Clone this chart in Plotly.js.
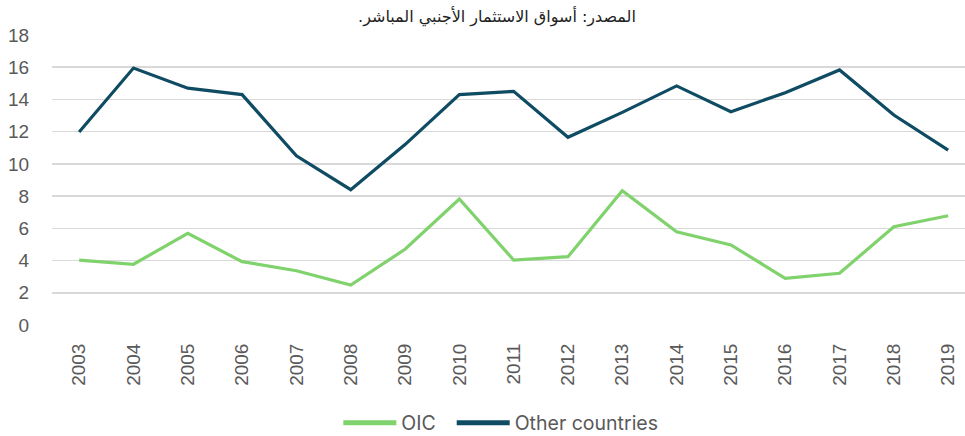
<!DOCTYPE html>
<html>
<head>
<meta charset="utf-8">
<script src="https://cdn.plot.ly/plotly-3.0.1.min.js"></script>
<style>html,body{margin:0;padding:0;background:#fff;}#chart{width:965px;height:436px;}</style>
</head>
<body>
<div id="chart"></div>
<script>
var years = ["2003","2004","2005","2006","2007","2008","2009","2010","2011","2012","2013","2014","2015","2016","2017","2018","2019"];
var oic = [4.03, 3.77, 5.69, 3.93, 3.37, 2.48, 4.7, 7.82, 4.03, 4.24, 8.34, 5.79, 4.97, 2.9, 3.21, 6.1, 6.78];
var otherCountries = [11.98, 15.95, 14.7, 14.3, 10.5, 8.4, 11.2, 14.3, 14.5, 11.65, 13.2, 14.84, 13.24, 14.42, 15.83, 13.03, 10.86];
var yTicks = [0, 2, 4, 6, 8, 10, 12, 14, 16, 18];
var seriesNames = ["OIC\u00A0\u00A0", "Other countries"];
var titleText = "\u202Bالمصدر: أسواق الاستثمار الأجنبي المباشر.\u202C";

var traces = [
  {x: years, y: oic, name: seriesNames[0], type: "scatter", mode: "lines",
   line: {color: "#80d26c", width: 3.2}},
  {x: years, y: otherCountries, name: seriesNames[1], type: "scatter", mode: "lines",
   line: {color: "#0f4c63", width: 3.2}}
];

var layout = {
  width: 965, height: 436,
  margin: {l: 52, r: 0, t: 35, b: 111},
  paper_bgcolor: "#ffffff", plot_bgcolor: "#ffffff",
  font: {family: "Liberation Sans, Arial, sans-serif", color: "#595959", size: 19},
  title: {text: titleText, x: 0.515, xanchor: "center", xref: "container",
          y: 0.963, yanchor: "middle", yref: "container",
          font: {family: "DejaVu Sans, Noto Sans, sans-serif", size: 16, color: "#222222"}},
  xaxis: {type: "category", range: [-0.5, 16.31], showgrid: false, zeroline: false,
          showline: false, tickangle: -90, ticks: "outside", ticklen: 10,
          tickcolor: "rgba(0,0,0,0)", tickfont: {size: 19, color: "#595959"}},
  yaxis: {range: [0, 18], tickvals: yTicks, ticktext: yTicks.map(String),
          showgrid: true, gridcolor: "#d9d9d9", gridwidth: 1.5, zeroline: false,
          showline: false, ticks: "outside", ticklen: 18, tickcolor: "rgba(0,0,0,0)",
          tickfont: {size: 19, color: "#595959"}},
  showlegend: true,
  legend: {orientation: "h", x: 0.519, xanchor: "center", xref: "container",
           y: 1 - 423/436, yanchor: "middle", yref: "container",
           itemwidth: 53,
           font: {family: "Inter, Liberation Sans, sans-serif", size: 19.5, color: "#595959"},
           traceorder: "normal", itemsizing: "constant"}
};

Plotly.newPlot("chart", traces, layout, {displayModeBar: false, staticPlot: true});
</script>
</body>
</html>
